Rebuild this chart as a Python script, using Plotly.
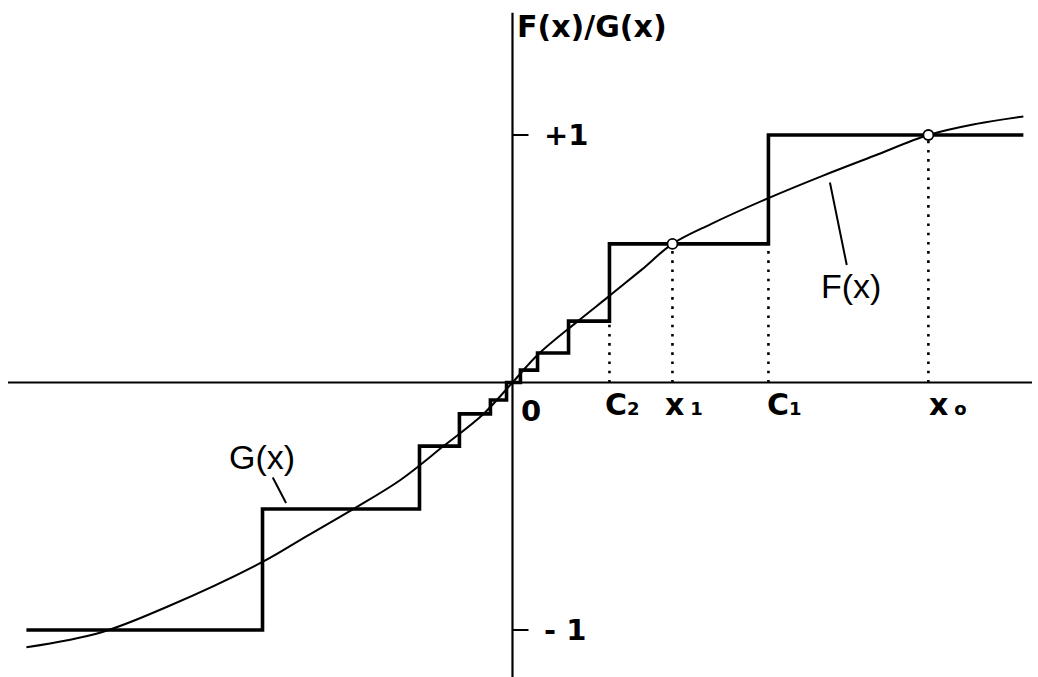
import plotly.graph_objects as go

# ---- data -------------------------------------------------------------
# staircase G(x): step edges and the level held between consecutive edges
c2 = 0.391
c1 = 1.032
g_edges = [-1.96, -1.008, -0.375, -0.214, -0.089, -0.024, 0.032, 0.101, 0.226, c2, c1, 2.06]
g_levels = [-1.0, -0.511, -0.257, -0.127, -0.071, 0.0, 0.05, 0.119, 0.248, 0.56, 1.0]

# smooth characteristic F(x)
f_x = [-1.96, -1.66, -1.39, -1.008, -0.855, -0.641, -0.452, -0.278, -0.117, 0.0,
       0.105, 0.26, 0.391, 0.52, 0.645, 0.80, 1.032, 1.25, 1.456, 1.677, 1.87, 2.06]
f_y = [-1.07, -1.01, -0.905, -0.725, -0.636, -0.511, -0.394, -0.257, -0.127, 0.0,
       0.115, 0.245, 0.35, 0.455, 0.56, 0.64, 0.745, 0.835, 0.915, 1.0, 1.045, 1.075]

# points where F meets a level of G
x1, x0 = 0.645, 1.677
cross_x = [x1, x0]
cross_y = [0.56, 1.0]

# dotted guides dropped to the abscissa: (position, height, label)
guide_x = [c2, x1, c1, x0]
guide_top = [0.248, 0.56, 0.56, 1.0]
SUB = "<span style='font-size:18px'><b>{}</b></span>"
guide_labels = [
    "<b>C</b>" + SUB.format("2"),
    "<b>x</b>\u2009" + SUB.format("1"),
    "<b>C</b>" + SUB.format("1"),
    "<b>x</b>\u2009" + SUB.format("o"),
]
guide_shift = [-6, -9, -3, -1]

y_ticks = [1, -1]
y_tick_labels = ["<b>+1</b>", "<b>- 1</b>"]

X_RANGE = [-2.0665, 2.119]
Y_RANGE = [-1.19, 1.5455]

BOLD = "DejaVu Sans"
PLAIN = "Liberation Sans"
INK = "black"

fig = go.Figure()

# dotted guides
for gx, gt in zip(guide_x, guide_top):
    fig.add_trace(go.Scatter(
        x=[gx, gx], y=[0, gt], mode="lines",
        line=dict(color=INK, width=2.6, dash="2.6px,6.6px"),
        hoverinfo="skip", showlegend=False))

# staircase G(x)
fig.add_trace(go.Scatter(
    x=g_edges, y=g_levels + [g_levels[-1]], mode="lines",
    line=dict(color=INK, width=3.6, shape="hv"),
    name="G(x)", showlegend=False))

# smooth F(x)
fig.add_trace(go.Scatter(
    x=f_x, y=f_y, mode="lines",
    line=dict(color=INK, width=2, shape="spline", smoothing=1.0),
    name="F(x)", showlegend=False))

# intersection circles
fig.add_trace(go.Scatter(
    x=cross_x, y=cross_y, mode="markers",
    marker=dict(symbol="circle", size=10, color="white",
                line=dict(color=INK, width=1.8)),
    hoverinfo="skip", showlegend=False))

shapes = [
    # abscissa
    dict(type="line", xref="paper", yref="y", x0=8 / 1038, x1=1032 / 1038, y0=0, y1=0,
         line=dict(color=INK, width=2.2)),
    # ordinate
    dict(type="line", xref="x", yref="paper", x0=0, x1=0, y0=0, y1=0.981,
         line=dict(color=INK, width=2.2)),
]
for t in y_ticks:
    shapes.append(dict(type="line", xref="x", yref="y", xsizemode="pixel", xanchor=0,
                       x0=0, x1=16, y0=t, y1=t, line=dict(color=INK, width=2)))

annotations = [
    dict(text="<b>F(x)/G(x)</b>", x=0, y=1, xref="x", yref="paper",
         xanchor="left", yanchor="top", xshift=3, yshift=-7, showarrow=False,
         font=dict(family=BOLD, size=30, color=INK)),
    dict(text="<b>0</b>", x=0, y=0, xref="x", yref="y",
         xanchor="left", yanchor="top", xshift=7, yshift=-10, showarrow=False,
         font=dict(family=BOLD, size=29, color=INK)),
]
for t, lab in zip(y_ticks, y_tick_labels):
    annotations.append(dict(text=lab, x=0, y=t, xref="x", yref="y",
                            xanchor="left", yanchor="middle", xshift=30, showarrow=False,
                            font=dict(family=BOLD, size=29, color=INK)))
for gx, lab, sh in zip(guide_x, guide_labels, guide_shift):
    annotations.append(dict(text=lab, x=gx, y=0, xref="x", yref="y",
                            xanchor="left", yanchor="top", xshift=sh, yshift=-3,
                            showarrow=False,
                            font=dict(family=BOLD, size=30, color=INK)))

# curve names with leader lines
annotations.append(dict(text="F(x)", x=1.28, y=0.808, xref="x", yref="y",
                        ax=21, ay=103, showarrow=True, arrowhead=0, arrowwidth=2,
                        arrowcolor=INK, font=dict(family=PLAIN, size=34, color=INK)))
annotations.append(dict(text="G(x)", x=-0.913, y=-0.487, xref="x", yref="y",
                        ax=-24, ay=-46, showarrow=True, arrowhead=0, arrowwidth=2,
                        arrowcolor=INK, font=dict(family=PLAIN, size=34, color=INK)))

fig.update_layout(
    width=1038, height=677,
    margin=dict(l=0, r=0, t=0, b=0),
    paper_bgcolor="white", plot_bgcolor="white",
    xaxis=dict(range=X_RANGE, visible=False, fixedrange=True),
    yaxis=dict(range=Y_RANGE, visible=False, fixedrange=True),
    shapes=shapes, annotations=annotations,
    showlegend=False,
)

fig.write_html("out.html")
